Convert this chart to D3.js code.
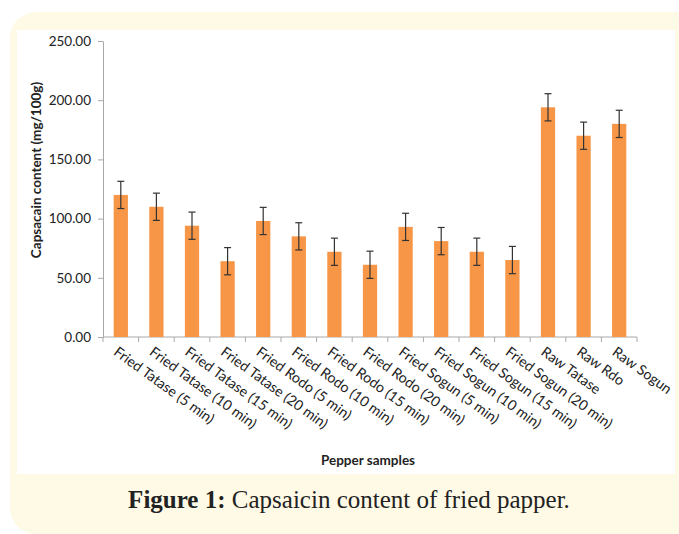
<!DOCTYPE html>
<html>
<head>
<meta charset="utf-8">
<script src="https://cdn.jsdelivr.net/npm/d3@7"></script>
<style>
  html, body { margin: 0; padding: 0; background: #ffffff; }
  svg { display: block; }
</style>
</head>
<body>
<svg id="chart" width="679" height="534"></svg>
<script>
// Capsaicin content per pepper sample (mg/100g) with error bar half-widths
const categories = [
  "Fried Tatase (5 min)", "Fried Tatase (10 min)", "Fried Tatase (15 min)", "Fried Tatase (20 min)",
  "Fried Rodo (5 min)", "Fried Rodo (10 min)", "Fried Rodo (15 min)", "Fried Rodo (20 min)",
  "Fried Sogun (5 min)", "Fried Sogun (10 min)", "Fried Sogun (15 min)", "Fried Sogun (20 min)",
  "Raw Tatase", "Raw Rdo", "Raw Sogun"
];
const values = [120, 110, 94, 64, 98, 85, 72, 61, 93, 81, 72, 65, 194, 170, 180];
const errors = [11.5, 11.5, 11.5, 11.5, 11.5, 11.5, 11.5, 11.5, 11.5, 11.5, 11.5, 11.5, 11.5, 11.5, 11.5];
const yTicks = [0, 50, 100, 150, 200, 250];

const svg = d3.select("#chart");

// Caption panel and white plot area
svg.append("rect").attr("x", 10).attr("y", 12).attr("width", 700).attr("height", 522)
  .attr("rx", 26).attr("ry", 26).attr("fill", "#fffae6");
svg.append("rect").attr("x", 17).attr("y", 30).attr("width", 658).attr("height", 444)
  .attr("fill", "#ffffff");

const x = d3.scaleBand().domain(categories).range([103, 637]).paddingInner(0.6).paddingOuter(0.3);
const y = d3.scaleLinear().domain([0, 250]).range([337, 41]);

// Y axis
const yAxis = svg.append("g").attr("transform", "translate(103,0)")
  .call(d3.axisLeft(y).tickValues(yTicks).tickFormat(d3.format(".2f")).tickSize(5).tickSizeOuter(0));
yAxis.select(".domain").attr("stroke", "#a8a8a8");
yAxis.selectAll(".tick line").attr("stroke", "#a8a8a8");
yAxis.selectAll(".tick text").attr("font-family", "Lato, sans-serif").attr("font-size", 13.5)
  .attr("fill", "#222").attr("x", -12);

// X axis with boundary ticks between categories
const xAxisG = svg.append("g").attr("transform", "translate(0,337)");
xAxisG.append("line").attr("x1", 103).attr("x2", 637).attr("y1", 0).attr("y2", 0).attr("stroke", "#a8a8a8");
const step = x.step();
const bounds = d3.range(categories.length + 1).map(i => x(categories[0]) - x.paddingOuter() * step + i * step);
xAxisG.selectAll("line.tk").data(bounds).join("line").attr("class", "tk")
  .attr("x1", d => d).attr("x2", d => d).attr("y1", 0).attr("y2", 5).attr("stroke", "#a8a8a8");

// Bars
svg.append("g").selectAll("rect").data(categories).join("rect")
  .attr("x", d => x(d))
  .attr("width", x.bandwidth())
  .attr("y", (d, i) => y(values[i]))
  .attr("height", (d, i) => y(0) - y(values[i]))
  .attr("fill", "#f79646");

// Error bars
const eg = svg.append("g").attr("stroke", "#333").attr("stroke-width", 1.2);
categories.forEach((c, i) => {
  const cx = x(c) + x.bandwidth() / 2;
  const hi = y(values[i] + errors[i]), lo = y(values[i] - errors[i]);
  eg.append("line").attr("x1", cx).attr("x2", cx).attr("y1", hi).attr("y2", lo);
  eg.append("line").attr("x1", cx - 3.5).attr("x2", cx + 3.5).attr("y1", hi).attr("y2", hi);
  eg.append("line").attr("x1", cx - 3.5).attr("x2", cx + 3.5).attr("y1", lo).attr("y2", lo);
});

// Rotated category labels
svg.append("g").selectAll("text").data(categories).join("text")
  .attr("transform", d => `translate(${x(d) + x.bandwidth() / 2 - 5},${350}) rotate(36)`)
  .attr("font-family", "Lato, sans-serif").attr("font-size", 14.2)
  .attr("fill", "#222").attr("text-anchor", "start").attr("dy", "0.35em")
  .text(d => d);

// Axis titles
svg.append("text").attr("transform", "translate(41,170) rotate(-90)")
  .attr("text-anchor", "middle").attr("font-family", "Lato, sans-serif").attr("font-weight", "bold")
  .attr("font-size", 13.5).attr("fill", "#222").text("Capsacain content (mg/100g)");
svg.append("text").attr("x", 368).attr("y", 465)
  .attr("text-anchor", "middle").attr("font-family", "Lato, sans-serif").attr("font-weight", "bold")
  .attr("font-size", 13.5).attr("fill", "#222").text("Pepper samples");

// Figure caption
const cap = svg.append("text").attr("x", 349).attr("y", 508).attr("text-anchor", "middle")
  .attr("font-family", "'Liberation Serif', 'DejaVu Serif', serif").attr("font-size", 25).attr("fill", "#222");
cap.append("tspan").attr("font-weight", "bold").text("Figure 1:");
cap.append("tspan").text(" Capsaicin content of fried papper.");
</script>
</body>
</html>
